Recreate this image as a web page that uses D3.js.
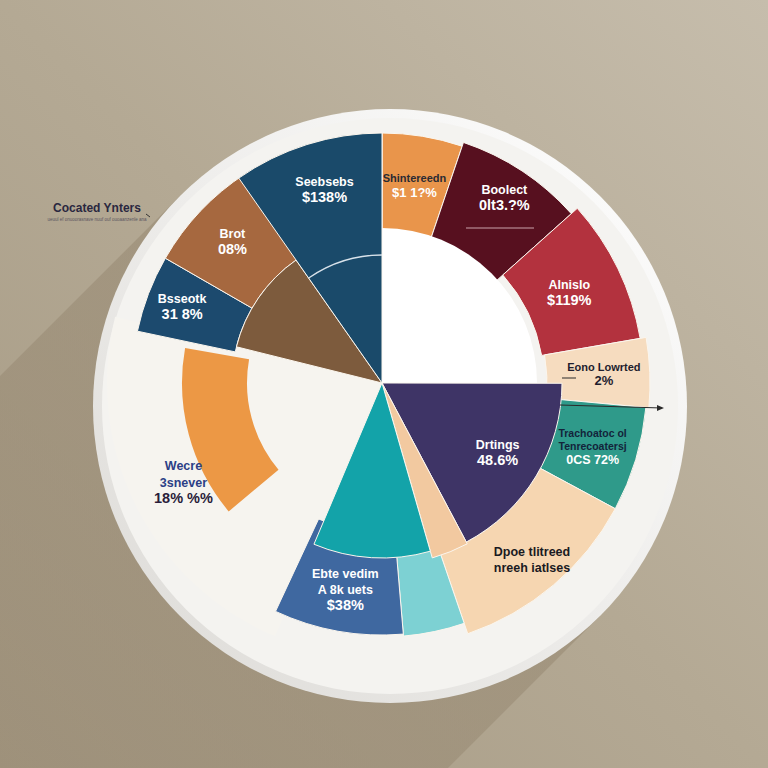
<!DOCTYPE html>
<html><head><meta charset="utf-8">
<script src="https://cdn.jsdelivr.net/npm/d3@7"></script>
<style>html,body{margin:0;padding:0;background:#b3a893;} svg{display:block}</style>
</head><body><svg id="c" width="768" height="768"></svg>
<script>
// ---------- DATA ----------
const outerCategories = ["Shintereedn","Boolect","Alnislo","Eono Lowrted","Trachoatoc","Dpoe tlitreed","Aqua","Ebte vedim","Open","Bsseotk","Brot","Seebsebs"];
const outerValues = [5.2, 8.2, 8.9, 4.2, 6.4, 11.9, 3.9, 8.3, 21.4, 5.0, 7.5, 9.2];
const outerLabels = [
  ["Shintereedn", "$1 1?%"],
  ["Boolect", "0lt3.?%"],
  ["Alnislo", "$119%"],
  ["Eono Lowrted", "2%"],
  ["Trachoatoc ol", "Tenrecoatersj", "0CS 72%"],
  ["Dpoe tlitreed", "nreeh iatlses"],
  [],
  ["Ebte vedim", "A 8k uets", "$38%"],
  [],
  ["Bsseotk", "31 8%"],
  ["Brot", "08%"],
  ["Seebsebs", "$138%"]
];
const innerCategories = ["Blank","Drtings","Sliver","Teal","Wecre","Umber","Seebsebs"];
const innerValues = [25.0, 17.2, 3.3, 10.8, 22.5, 11.4, 9.7];
const innerLabels = [[], ["Drtings", "48.6%"], [], [], ["Wecre", "3snever", "18% %%"], [], []];
const highlightValues = [63.9, 13.9, 22.2];
const titleText = "Cocated Ynters";
const subtitleText = "ueuul ef onuoorasnave nuuf  ouf ouoaanzenle ana";

// ---------- STYLE ----------
const W = 768, H = 768;
const cx = 382, cy = 383;
const plateC = [390, 406], plateR = 297;
const outerStyle = {
  "Shintereedn": {fill:"#e9954b", ri:143, ro:250, text:"#2b2b33", pct:"#ffffff", size:11},
  "Boolect": {fill:"#57101f", ri:152, ro:254, text:"#ffffff"},
  "Alnislo": {fill:"#b3323e", ri:162, ro:262, text:"#ffffff"},
  "Eono Lowrted": {fill:"#f6dcbf", ri:165, ro:268, text:"#1e1d2e", size:11},
  "Trachoatoc": {fill:"#2f9a8a", ri:178, ro:265, text:"#13243a", pct:"#ffffff", size:10.5},
  "Dpoe tlitreed": {fill:"#f6d6b1", ri:180, ro:265, text:"#1a1a22"},
  "Aqua": {fill:"#7dd1d3", ri:172, ro:254, text:"#fff"},
  "Ebte vedim": {fill:"#3f68a0", ri:150, ro:252, text:"#ffffff"},
  "Open": {fill:"none", ri:0, ro:0, text:"#fff"},
  "Bsseotk": {fill:"#1c4a6e", ri:150, ro:250, text:"#ffffff"},
  "Brot": {fill:"#a6683f", ri:150, ro:250, text:"#ffffff"},
  "Seebsebs": {fill:"#1a4a6a", ri:0, ro:250, text:"#ffffff"}
};
const innerStyle = {
  "Blank": {fill:"#ffffff", ro:155},
  "Drtings": {fill:"#3e3466", ro:180, text:"#ffffff"},
  "Sliver": {fill:"#f2c9a0", ro:182},
  "Teal": {fill:"#13a3a9", ro:175},
  "Wecre": {fill:"#f6f4ef", ro:275, text:"#2c3f86", pct:"#2a1d3a"},
  "Umber": {fill:"#7d5b3d", ro:150},
  "Seebsebs": {fill:"#1a4a6a", ro:250}
};
const highlightStyle = [{fill:"none"}, {fill:"#ec9845"}, {fill:"none"}];

const svg = d3.select("#c");
const defs = svg.append("defs");

// background
const bg = defs.append("linearGradient").attr("id","bg").attr("x1","0").attr("y1","1").attr("x2","1").attr("y2","0");
bg.append("stop").attr("offset","0").attr("stop-color","#a69a84");
bg.append("stop").attr("offset","0.5").attr("stop-color","#b4a994");
bg.append("stop").attr("offset","1").attr("stop-color","#c6bdac");
svg.append("rect").attr("width",W).attr("height",H).attr("fill","url(#bg)");

// long shadow
const sh = defs.append("linearGradient").attr("id","sh").attr("x1","1").attr("y1","0").attr("x2","0").attr("y2","1");
sh.append("stop").attr("offset","0").attr("stop-color","#8f8069").attr("stop-opacity",0.5);
sh.append("stop").attr("offset","1").attr("stop-color","#8f8069").attr("stop-opacity",0.15);
const k = plateR/Math.SQRT2;
const p1 = [plateC[0]-k, plateC[1]-k], p2 = [plateC[0]+k, plateC[1]+k];
svg.append("path")
  .attr("d", d3.line()([p1, p2, [p2[0]-900, p2[1]+900], [p1[0]-900, p1[1]+900]]))
  .attr("fill","url(#sh)");

// plate
const rim = defs.append("linearGradient").attr("id","rim").attr("x1","1").attr("y1","0").attr("x2","0").attr("y2","1");
rim.append("stop").attr("offset","0").attr("stop-color","#ffffff");
rim.append("stop").attr("offset","1").attr("stop-color","#dcdad6");
svg.append("circle").attr("cx",plateC[0]).attr("cy",plateC[1]).attr("r",plateR).attr("fill","url(#rim)");
svg.append("circle").attr("cx",plateC[0]).attr("cy",plateC[1]).attr("r",plateR-9).attr("fill","#f4f3f0");

const g = svg.append("g").attr("transform",`translate(${cx},${cy})`);
const pie = d3.pie().sort(null).value(d => d);
const outerArcs = pie(outerValues);
const innerArcs = pie(innerValues);
const hiArcs = pie(highlightValues);
const arc = d3.arc();
const strokeCol = "#fbf6ee";

// cream panel first
innerArcs.forEach((a,i) => {
  const name = innerCategories[i];
  if (name !== "Wecre") return;
  g.append("path").attr("d", arc({startAngle:a.startAngle, endAngle:a.endAngle, innerRadius:0, outerRadius:innerStyle[name].ro}))
   .attr("fill", innerStyle[name].fill);
});
// orange highlight arc inside cream
hiArcs.forEach((a,i) => {
  if (highlightStyle[i].fill === "none") return;
  g.append("path").attr("d", arc({startAngle:a.startAngle, endAngle:a.endAngle, innerRadius:135, outerRadius:200}))
   .attr("fill", highlightStyle[i].fill);
});
// outer ring
outerArcs.forEach((a,i) => {
  const s = outerStyle[outerCategories[i]];
  if (s.fill === "none") return;
  g.append("path").attr("d", arc({startAngle:a.startAngle, endAngle:a.endAngle, innerRadius:s.ri, outerRadius:s.ro}))
   .attr("fill", s.fill).attr("stroke", strokeCol).attr("stroke-width", 1);
});
// inner pie
innerArcs.forEach((a,i) => {
  const name = innerCategories[i];
  if (name === "Wecre") return;
  const s = innerStyle[name];
  g.append("path").attr("d", arc({startAngle:a.startAngle, endAngle:a.endAngle, innerRadius:0, outerRadius:s.ro}))
   .attr("fill", s.fill).attr("stroke", name==="Blank" ? "none" : strokeCol).attr("stroke-width", 1);
  if (name === "Seebsebs") {
    g.append("path").attr("d", arc({startAngle:a.startAngle, endAngle:a.endAngle, innerRadius:128, outerRadius:128}))
     .attr("fill","none").attr("stroke","#d8e2ea").attr("stroke-width",1.3);
  }
});

// labels
function drawLabel(pos, lines, s, size) {
  const t = g.append("text").attr("text-anchor","middle")
    .attr("font-family","'Liberation Sans', Arial, sans-serif").attr("font-weight","bold");
  const n = lines.length, lh = size*1.3;
  lines.forEach((ln, j) => {
    const isPct = j === n-1 && /%/.test(ln);
    t.append("tspan").attr("x", pos[0]).attr("y", pos[1] + (j - (n-1)/2)*lh + size*0.35)
      .attr("font-size", isPct ? size+2 : size)
      .attr("fill", isPct && s.pct ? s.pct : s.text).text(ln);
  });
}
const labelR = {"Shintereedn":200,"Boolect":222,"Alnislo":208,"Eono Lowrted":222,"Trachoatoc":220,"Dpoe tlitreed":232,"Ebte vedim":210,"Bsseotk":214,"Brot":206,"Seebsebs":202};
outerArcs.forEach((a,i) => {
  const name = outerCategories[i];
  if (!outerLabels[i].length) return;
  const r = labelR[name];
  const c = d3.arc().innerRadius(r).outerRadius(r).centroid(a);
  drawLabel(c, outerLabels[i], outerStyle[name], outerStyle[name].size || 12.5);
});
innerArcs.forEach((a,i) => {
  const name = innerCategories[i];
  if (!innerLabels[i].length) return;
  const r = name === "Wecre" ? 222 : 135;
  const c = d3.arc().innerRadius(r).outerRadius(r).centroid(a);
  drawLabel(c, innerLabels[i], innerStyle[name], 12.5);
});

// decorative leader lines
g.append("line").attr("x1",84).attr("y1",-155).attr("x2",152).attr("y2",-155).attr("stroke","#e8c9cf").attr("stroke-width",0.8);
g.append("line").attr("x1",180).attr("y1",-5).attr("x2",194).attr("y2",-5).attr("stroke","#2a2a2a").attr("stroke-width",1);
g.append("line").attr("x1",178).attr("y1",22).attr("x2",280).attr("y2",25).attr("stroke","#2a2a2a").attr("stroke-width",1);
g.append("path").attr("d","M282,25 l-7,-3 l0,6 z").attr("fill","#2a2a2a");

// title
svg.append("text").attr("x",97).attr("y",212).attr("text-anchor","middle")
  .attr("font-family","'Liberation Sans', Arial, sans-serif").attr("font-weight","bold")
  .attr("font-size",12).attr("fill","#2a2740").text(titleText);
svg.append("text").attr("x",97).attr("y",221).attr("text-anchor","middle")
  .attr("font-family","'Liberation Sans', Arial, sans-serif")
  .attr("font-size",4.5).attr("fill","#5a5560").text(subtitleText);
svg.append("line").attr("x1",146).attr("y1",214).attr("x2",150).attr("y2",217).attr("stroke","#333").attr("stroke-width",1);
</script></body></html>
